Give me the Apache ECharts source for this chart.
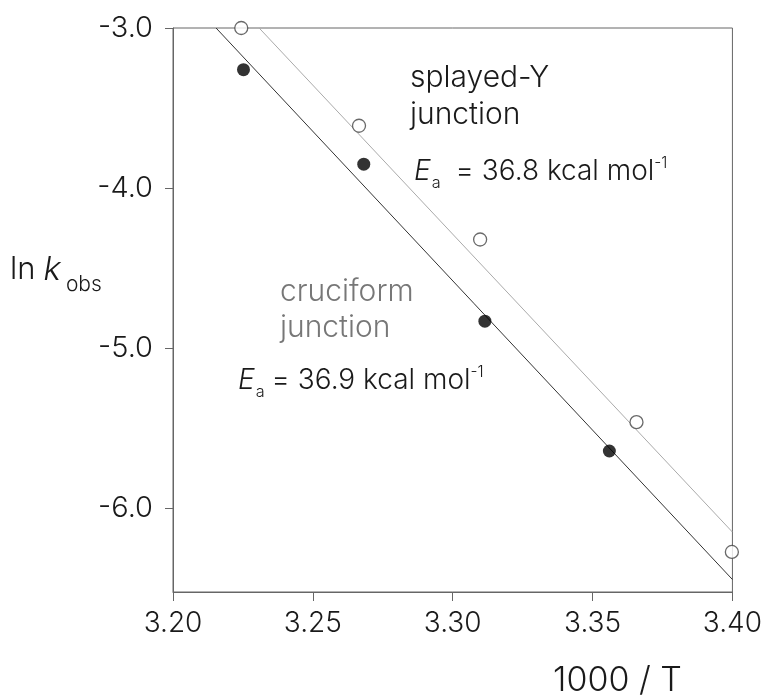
<!DOCTYPE html>
<html>
<head>
<meta charset="utf-8">
<script src="https://cdn.jsdelivr.net/npm/echarts@6/dist/echarts.min.js"></script>
<style>
html,body{margin:0;padding:0;background:#fff;}
#chart{width:765px;height:700px;}
</style>
</head>
<body>
<div id="chart"></div>
<script>
// Data
const xTicks = [3.20, 3.25, 3.30, 3.35, 3.40];
const yTicks = [-6.0, -5.0, -4.0, -3.0];
const splayedX = [3.2244, 3.2665, 3.3098, 3.3657, 3.3998];
const splayedY = [-3.00, -3.61, -4.32, -5.46, -6.27];
const cruciformX = [3.2252, 3.2682, 3.3115, 3.3560];
const cruciformY = [-3.26, -3.85, -4.83, -5.64];
const splayedFitX = [3.2308, 3.40];
const splayedFitY = [-3.00, -6.146];
const cruciformFitX = [3.2154, 3.40];
const cruciformFitY = [-3.00, -6.442];

const FONT = 'Inter, Roboto, sans-serif';
const W = 300;

function pairs(xs, ys) { return xs.map((x, i) => [x, ys[i]]); }

const measureCtx = document.createElement('canvas').getContext('2d');
function measure(text, size, italic) {
  measureCtx.font = (italic ? 'italic ' : '') + W + ' ' + size + 'px ' + FONT;
  return measureCtx.measureText(text).width;
}

function txt(x, y, text, size, opts) {
  opts = opts || {};
  return {
    type: 'text', x: x, y: y,
    style: {
      text: text, fontSize: size, fontFamily: FONT, fontWeight: W,
      fontStyle: opts.italic ? 'italic' : 'normal',
      fill: opts.color || '#1a1a1a', textVerticalAlign: 'middle', textAlign: 'left'
    }
  };
}

// Sequence of text pieces laid out left to right from x
function seq(x, y, parts) {
  const out = [];
  let cx = x;
  parts.forEach(p => {
    cx += (p.gap || 0);
    out.push(txt(cx, y + (p.dy || 0), p.text, p.size, p));
    cx += measure(p.text, p.size, p.italic);
  });
  return out;
}

function eaLabel(x, y, value, size, eqGap) {
  return seq(x, y, [
    {text: 'E', size: size, italic: true},
    {text: 'a', size: size * 0.58, dy: size * 0.38, gap: 1},
    {text: '= ' + value + ' kcal mol', size: size, gap: eqGap},
    {text: '-1', size: size * 0.55, dy: -size * 0.3, gap: 0}
  ]);
}

const chart = echarts.init(document.getElementById('chart'), null, {renderer: 'canvas'});

chart.setOption({
  animation: false,
  backgroundColor: '#fff',
  grid: {left: 173, right: 28, top: 28, bottom: 108, show: true, borderColor: '#666', borderWidth: 1, backgroundColor: 'transparent'},
  xAxis: {
    type: 'value', min: 3.20, max: 3.40, interval: 0.05,
    axisLine: {show: true, lineStyle: {color: '#666', width: 1}},
    axisTick: {show: true, inside: false, length: 9, lineStyle: {color: '#666'}},
    splitLine: {show: false},
    axisLabel: {
      margin: 18, fontSize: 28, fontFamily: FONT, fontWeight: W, color: '#1a1a1a',
      customValues: xTicks, formatter: v => v.toFixed(2)
    }
  },
  yAxis: {
    type: 'value', min: -6.52, max: -3.0,
    axisLine: {show: true, lineStyle: {color: '#666', width: 1}},
    axisTick: {show: true, inside: false, length: 8, lineStyle: {color: '#666'}, customValues: yTicks},
    splitLine: {show: false},
    axisLabel: {
      margin: 20, fontSize: 29, fontFamily: FONT, fontWeight: W, color: '#1a1a1a',
      customValues: yTicks, formatter: v => v.toFixed(1)
    }
  },
  series: [
    {type: 'line', data: pairs(splayedFitX, splayedFitY), symbol: 'none', lineStyle: {color: '#aaaaaa', width: 1}, z: 2},
    {type: 'line', data: pairs(cruciformFitX, cruciformFitY), symbol: 'none', lineStyle: {color: '#333333', width: 1}, z: 2},
    {type: 'scatter', data: pairs(splayedX, splayedY), symbol: 'circle', symbolSize: 13, clip: false,
      itemStyle: {color: '#ffffff', borderColor: '#444', borderWidth: 1.3}, z: 3},
    {type: 'scatter', data: pairs(cruciformX, cruciformY), symbol: 'circle', symbolSize: 13, clip: false,
      itemStyle: {color: '#000000', borderWidth: 0}, z: 3}
  ],
  graphic: [].concat(
    // y axis name: ln k_obs
    seq(10, 270, [
      {text: 'ln', size: 31},
      {text: 'k', size: 33, italic: true, gap: 8},
      {text: 'obs', size: 21, dy: 15, gap: 5}
    ]),
    // x axis name
    [txt(553, 681, '1000 / T', 34)],
    // splayed-Y annotation
    [txt(410, 78, 'splayed-Y', 30), txt(410, 115, 'junction', 30)],
    eaLabel(414, 172, '36.8', 28, 15),
    // cruciform annotation
    [txt(280, 292, 'cruciform', 30, {color: '#777'}), txt(280, 328, 'junction', 30, {color: '#777'})],
    eaLabel(238, 381, '36.9', 28, 7)
  )
});
</script>
</body>
</html>
